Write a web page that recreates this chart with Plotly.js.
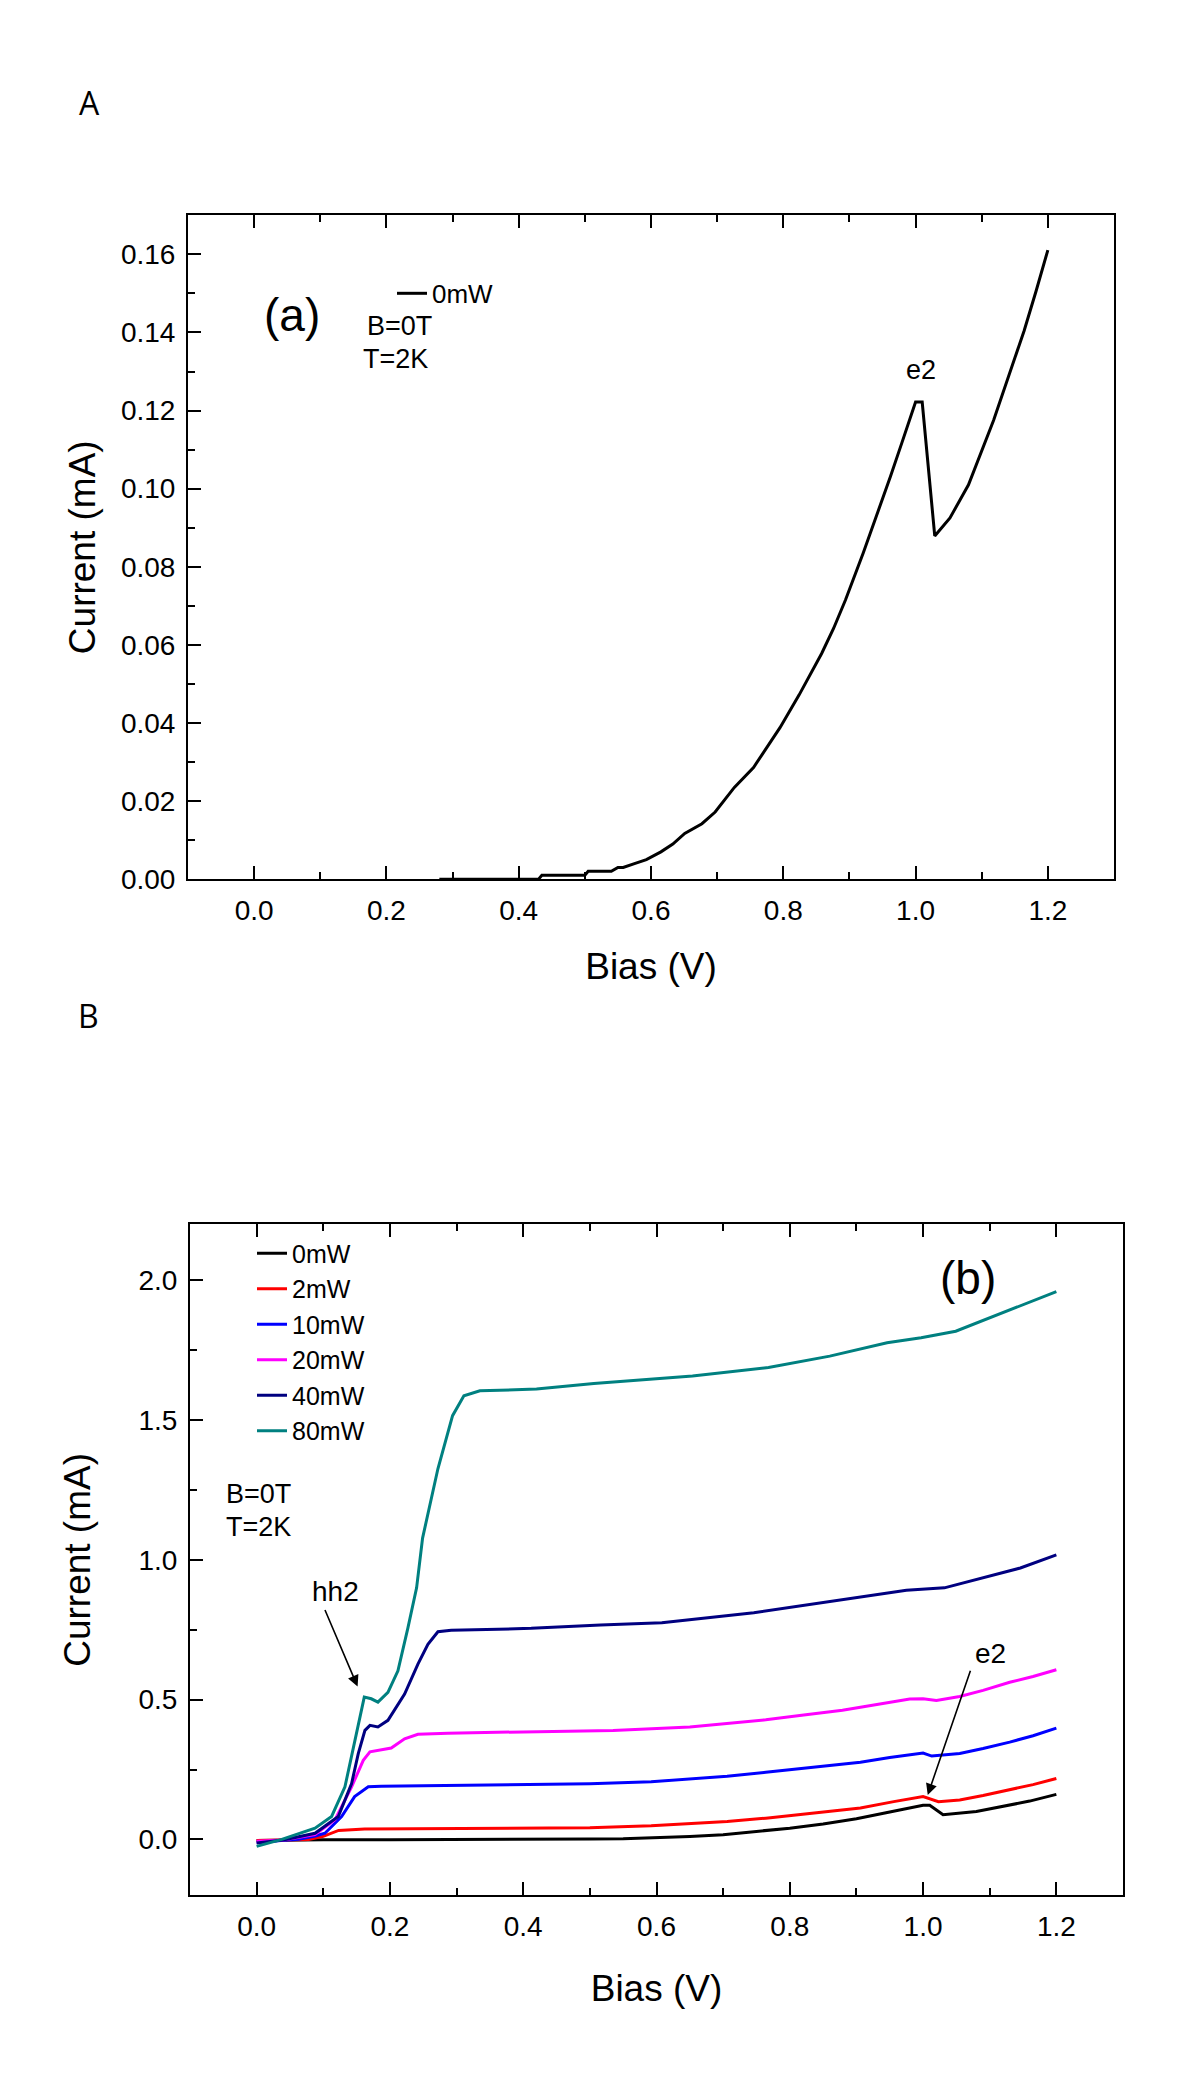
<!DOCTYPE html>
<html>
<head>
<meta charset="utf-8">
<script src="https://cdn.plot.ly/plotly-3.0.1.min.js"></script>
<style>
html,body{margin:0;padding:0;background:#fff;}
#chart{width:1200px;height:2076px;}
</style>
</head>
<body>
<div id="chart"></div>
<script>
// ---------- Panel A data (0 mW) ----------
var biasA = [0.28, 0.43, 0.435, 0.50, 0.505, 0.54, 0.55, 0.558, 0.575, 0.593, 0.615, 0.633, 0.651, 0.677, 0.697, 0.726, 0.755, 0.772, 0.795, 0.824, 0.840, 0.858, 0.876, 0.894, 0.921, 0.939, 0.962, 0.979, 1.0, 1.01, 1.029, 1.052, 1.080, 1.118, 1.144, 1.164, 1.182, 1.2];
var curA  = [0, 0, 0.001, 0.001, 0.002, 0.002, 0.003, 0.003, 0.004, 0.005, 0.007, 0.009, 0.0117, 0.0142, 0.0172, 0.0235, 0.0286, 0.0328, 0.0388, 0.0472, 0.0523, 0.0578, 0.0642, 0.0715, 0.0836, 0.0921, 0.1031, 0.1116, 0.1222, 0.1222, 0.0879, 0.0925, 0.1010, 0.1175, 0.1302, 0.1404, 0.1505, 0.1611];

// ---------- Panel B data ----------
var bias0  = [0, 0.05, 0.1, 0.2, 0.3, 0.4, 0.5, 0.55, 0.6, 0.65, 0.7, 0.75, 0.8, 0.85, 0.9, 0.95, 1.0, 1.01, 1.03, 1.08, 1.12, 1.16, 1.2];
var cur0   = [-0.004, -0.002, -0.001, -0.001, -0.001, 0, 0.001, 0.002, 0.005, 0.0105, 0.017, 0.028, 0.040, 0.055, 0.074, 0.098, 0.122, 0.122, 0.088, 0.100, 0.118, 0.137, 0.161];

var bias2  = [0, 0.04, 0.078, 0.1, 0.123, 0.162, 0.262, 0.412, 0.5, 0.592, 0.65, 0.706, 0.764, 0.821, 0.87, 0.906, 0.956, 1.0, 1.023, 1.055, 1.09, 1.13, 1.165, 1.2];
var cur2   = [-0.004, -0.002, 0.0, 0.011, 0.032, 0.037, 0.038, 0.040, 0.042, 0.049, 0.056, 0.064, 0.076, 0.090, 0.103, 0.112, 0.135, 0.153, 0.135, 0.141, 0.157, 0.177, 0.196, 0.218];

var bias10 = [0, 0.03, 0.063, 0.088, 0.1025, 0.1275, 0.147, 0.1675, 0.187, 0.25, 0.412, 0.5, 0.592, 0.65, 0.706, 0.764, 0.821, 0.879, 0.906, 0.95, 1.0, 1.013, 1.055, 1.09, 1.13, 1.165, 1.2];
var cur10  = [-0.01, -0.004, 0.0, 0.012, 0.022, 0.082, 0.153, 0.188, 0.19, 0.192, 0.196, 0.199, 0.206, 0.215, 0.226, 0.240, 0.255, 0.268, 0.276, 0.293, 0.309, 0.298, 0.307, 0.325, 0.348, 0.371, 0.398];

var bias20 = [0, 0.04, 0.0876, 0.1175, 0.1425, 0.160, 0.170, 0.187, 0.202, 0.222, 0.242, 0.287, 0.412, 0.535, 0.65, 0.764, 0.821, 0.879, 0.906, 0.95, 0.98, 1.0, 1.02, 1.055, 1.09, 1.13, 1.165, 1.2];
var cur20  = [-0.007, -0.002, 0.017, 0.07, 0.188, 0.283, 0.313, 0.319, 0.327, 0.360, 0.376, 0.380, 0.384, 0.390, 0.402, 0.428, 0.445, 0.462, 0.473, 0.489, 0.502, 0.503, 0.497, 0.511, 0.533, 0.562, 0.583, 0.607];

var bias40 = [0, 0.04, 0.0876, 0.1225, 0.1425, 0.1525, 0.1625, 0.170, 0.182, 0.197, 0.222, 0.242, 0.257, 0.272, 0.292, 0.363, 0.412, 0.516, 0.608, 0.746, 0.86, 0.975, 1.032, 1.089, 1.146, 1.2];
var cur40  = [-0.013, -0.002, 0.022, 0.082, 0.2, 0.307, 0.390, 0.408, 0.402, 0.426, 0.520, 0.627, 0.698, 0.743, 0.748, 0.751, 0.755, 0.767, 0.775, 0.811, 0.852, 0.891, 0.9, 0.935, 0.971, 1.018];

var bias80 = [0, 0.0377, 0.0876, 0.1125, 0.1325, 0.147, 0.1615, 0.172, 0.182, 0.197, 0.212, 0.227, 0.240, 0.249, 0.272, 0.294, 0.311, 0.335, 0.42, 0.506, 0.654, 0.768, 0.86, 0.946, 0.997, 1.049, 1.106, 1.158, 1.2];
var cur80  = [-0.025, 0.0, 0.040, 0.082, 0.188, 0.355, 0.509, 0.503, 0.491, 0.526, 0.603, 0.757, 0.900, 1.078, 1.326, 1.516, 1.587, 1.605, 1.611, 1.631, 1.658, 1.688, 1.729, 1.777, 1.795, 1.818, 1.872, 1.919, 1.960];

var seriesNames  = ['0mW', '2mW', '10mW', '20mW', '40mW', '80mW'];
var seriesColors = ['#000000', '#ff0000', '#0000ff', '#ff00ff', '#000080', '#008080'];
var seriesX = [bias0, bias2, bias10, bias20, bias40, bias80];
var seriesY = [cur0, cur2, cur10, cur20, cur40, cur80];

var FONT = 'Liberation Sans, Arial, Helvetica, sans-serif';

var traces = [{
  x: biasA, y: curA, type: 'scatter', mode: 'lines', name: '0mW',
  line: {color: '#000000', width: 3}, xaxis: 'x', yaxis: 'y', legend: 'legend'
}];
for (var i = 0; i < seriesNames.length; i++) {
  traces.push({
    x: seriesX[i], y: seriesY[i], type: 'scatter', mode: 'lines', name: seriesNames[i],
    line: {color: seriesColors[i], width: 3}, xaxis: 'x2', yaxis: 'y2', legend: 'legend2'
  });
}

function xAxis(domain, anchor, standoff) {
  return {
    domain: domain, anchor: anchor, range: [-0.1, 1.3],
    showline: true, linecolor: '#000', linewidth: 2, mirror: 'ticks',
    ticks: 'inside', ticklen: 13, tickwidth: 2, tickcolor: '#000',
    dtick: 0.2, tick0: 0, tickformat: '.1f', ticklabelstandoff: 5,
    minor: {ticks: 'inside', ticklen: 7, tickwidth: 2, tickcolor: '#000', dtick: 0.1, tick0: 0, showgrid: false},
    showgrid: false, zeroline: false, automargin: true,
    tickfont: {family: FONT, size: 28, color: '#000'},
    title: {text: 'Bias (V)', font: {family: FONT, size: 37, color: '#000'}, standoff: standoff}
  };
}
function yAxis(domain, anchor, range, dtick, minorDtick, fmt, standoff) {
  return {
    domain: domain, anchor: anchor, range: range,
    showline: true, linecolor: '#000', linewidth: 2, mirror: true,
    ticks: 'inside', ticklen: 13, tickwidth: 2, tickcolor: '#000',
    dtick: dtick, tick0: 0, tickformat: fmt, ticklabelstandoff: 5,
    minor: {ticks: 'inside', ticklen: 7, tickwidth: 2, tickcolor: '#000', dtick: minorDtick, tick0: 0, showgrid: false},
    showgrid: false, zeroline: false, automargin: true,
    tickfont: {family: FONT, size: 28, color: '#000'},
    title: {text: 'Current (mA)', font: {family: FONT, size: 37, color: '#000'}, standoff: standoff}
  };
}

var txt = function (t, x, y, xr, yr, size, xanchor, fam) {
  return {text: t, x: x, y: y, xref: xr, yref: yr, showarrow: false,
          xanchor: xanchor || 'center', yanchor: 'middle',
          font: {family: fam || FONT, size: size, color: '#000'}};
};

var annotations = [
  txt('A', 89 / 1200, 1 - 103 / 2076, 'paper', 'paper', 32, 'center', 'Open Sans, sans-serif'),
  txt('B', 88 / 1200, 1 - 1023 / 2076, 'paper', 'paper', 32, 'center', 'Open Sans, sans-serif'),
  txt('(a)', 0.057, 0.1446, 'x', 'y', 46),
  txt('B=0T', 0.168, 0.1416, 'x', 'y', 27, 'left'),
  txt('T=2K', 0.162, 0.1332, 'x', 'y', 27, 'left'),
  txt('e2', 1.008, 0.1305, 'x', 'y', 27),
  txt('(b)', 1.067, 2.008, 'x2', 'y2', 46),
  txt('B=0T', -0.049, 1.234, 'x2', 'y2', 27, 'left'),
  txt('T=2K', -0.049, 1.116, 'x2', 'y2', 27, 'left'),
  txt('hh2', 0.1185, 0.888, 'x2', 'y2', 28),
  txt('e2', 1.1015, 0.665, 'x2', 'y2', 28),
  {text: '', x: 0.1515, y: 0.5466, xref: 'x2', yref: 'y2', ax: 0.1016, ay: 0.826, axref: 'x2', ayref: 'y2',
   showarrow: true, arrowhead: 2, arrowsize: 1.4, arrowwidth: 1.6, arrowcolor: '#000'},
  {text: '', x: 1.007, y: 0.159, xref: 'x2', yref: 'y2', ax: 1.0718, ay: 0.609, axref: 'x2', ayref: 'y2',
   showarrow: true, arrowhead: 2, arrowsize: 1.4, arrowwidth: 1.6, arrowcolor: '#000'}
];

var layout = {
  width: 1200, height: 2076,
  margin: {l: 0, r: 0, t: 0, b: 0},
  paper_bgcolor: '#fff', plot_bgcolor: '#fff',
  font: {family: FONT, color: '#000'},
  showlegend: true,
  hovermode: false,
  xaxis: xAxis([188 / 1200, 1114 / 1200], 'y', 28),
  yaxis: yAxis([1 - 886 / 2076, 1 - 217 / 2076], 'x', [0, 0.17], 0.02, 0.01, '.2f', 14),
  xaxis2: xAxis([190 / 1200, 1123 / 1200], 'y2', 34),
  yaxis2: yAxis([1 - 1910 / 2076, 1 - 1234 / 2076], 'x2', [-0.2, 2.2], 0.5, 0.25, '.1f', 37),
  legend: {x: 392 / 1200, y: 1 - 272 / 2076, xanchor: 'left', yanchor: 'top',
           bgcolor: 'rgba(0,0,0,0)', borderwidth: 0, itemwidth: 30,
           font: {family: FONT, size: 26, color: '#000'}},
  legend2: {x: 252 / 1200, y: 1 - 1240 / 2076, xanchor: 'left', yanchor: 'top',
           bgcolor: 'rgba(0,0,0,0)', borderwidth: 0, itemwidth: 30,
           font: {family: FONT, size: 25, color: '#000'}},
  annotations: annotations
};

Plotly.newPlot('chart', traces, layout, {staticPlot: true, displayModeBar: false});
</script>
</body>
</html>
